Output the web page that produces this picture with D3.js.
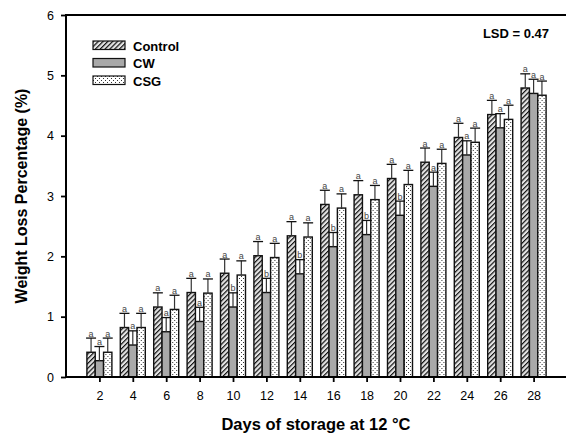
<!DOCTYPE html>
<html>
<head>
<meta charset="utf-8">
<script src="https://cdn.jsdelivr.net/npm/d3@7/dist/d3.min.js"></script>
<style>
  body { margin: 0; background: #fff; }
  svg { display: block; font-family: "Liberation Sans", Arial, sans-serif; }
</style>
</head>
<body>
<div id="chart"></div>
<script>
const days = [2, 4, 6, 8, 10, 12, 14, 16, 18, 20, 22, 24, 26, 28];
const controlVals = [0.41, 0.82, 1.16, 1.40, 1.72, 2.01, 2.34, 2.86, 3.02, 3.29, 3.56, 3.97, 4.35, 4.79];
const cwVals      = [0.27, 0.53, 0.75, 0.92, 1.16, 1.40, 1.71, 2.16, 2.36, 2.68, 3.16, 3.68, 4.13, 4.70];
const csgVals     = [0.41, 0.82, 1.12, 1.39, 1.69, 1.98, 2.32, 2.80, 2.94, 3.19, 3.54, 3.89, 4.27, 4.67];
const errVals     = [0.235, 0.235, 0.235, 0.235, 0.235, 0.235, 0.235, 0.235, 0.235, 0.235, 0.235, 0.235, 0.235, 0.235];
const controlLetters = ["a","a","a","a","a","a","a","a","a","a","a","a","a","a"];
const cwLetters      = ["a","a","a","a","b","b","b","b","b","b","a","a","a","a"];
const csgLetters     = ["a","a","a","a","a","a","a","a","a","a","a","a","a","a"];
const seriesNames = ["Control", "CW", "CSG"];
const yTicks = [0, 1, 2, 3, 4, 5, 6];

let width = 566, height = 439;
let plotLeft = 66, plotRight = 567, plotTop = 15, plotBottom = 377;

let svg = d3.select("#chart").append("svg")
    .attr("width", width)
    .attr("height", height);

// fill patterns
let defs = svg.append("defs");
let hatch = defs.append("pattern")
    .attr("id", "hatch")
    .attr("patternUnits", "userSpaceOnUse")
    .attr("width", 3.4).attr("height", 3.4)
    .attr("patternTransform", "rotate(45)");
hatch.append("rect").attr("width", 3.4).attr("height", 3.4).attr("fill", "#e4e4e4");
hatch.append("line").attr("x1", 0).attr("y1", 0).attr("x2", 0).attr("y2", 3.4)
    .attr("stroke", "#111").attr("stroke-width", 2.4);

let dots = defs.append("pattern")
    .attr("id", "dots")
    .attr("patternUnits", "userSpaceOnUse")
    .attr("width", 4).attr("height", 4);
dots.append("rect").attr("width", 4).attr("height", 4).attr("fill", "#fff");
dots.append("rect").attr("x", 0).attr("y", 0).attr("width", 1).attr("height", 1).attr("fill", "#333");
dots.append("rect").attr("x", 2).attr("y", 2).attr("width", 1).attr("height", 1).attr("fill", "#333");

let fills = {"Control": "url(#hatch)", "CW": "#a9a9a9", "CSG": "url(#dots)"};

let x = d3.scalePoint()
    .domain(days)
    .range([plotLeft, plotRight])
    .padding(1);

let xInner = d3.scaleBand()
    .domain(seriesNames)
    .range([-12.5, 12.5]);

let y = d3.scaleLinear()
    .domain([0, 6])
    .range([plotBottom, plotTop]);

let data = days.map(function(d, i) {
    return [
        {day: d, key: "Control", value: controlVals[i], err: errVals[i], letter: controlLetters[i]},
        {day: d, key: "CW", value: cwVals[i], err: errVals[i], letter: cwLetters[i]},
        {day: d, key: "CSG", value: csgVals[i], err: errVals[i], letter: csgLetters[i]}
    ];
});

let groups = svg.append("g").selectAll("g")
    .data(data)
    .enter().append("g")
    .attr("transform", function(d) { return "translate(" + x(d[0].day) + ",0)"; });

groups.selectAll("rect")
    .data(function(d) { return d; })
    .enter().append("rect")
    .attr("x", function(d) { return xInner(d.key); })
    .attr("y", function(d) { return y(d.value); })
    .attr("width", xInner.bandwidth())
    .attr("height", function(d) { return y(0) - y(d.value); })
    .attr("fill", function(d) { return fills[d.key]; })
    .attr("stroke", "#111")
    .attr("stroke-width", 1.4);

// error bars
let eb = groups.selectAll("g.err")
    .data(function(d) { return d; })
    .enter().append("g")
    .attr("class", "err");

eb.append("line")
    .attr("x1", function(d) { return xInner(d.key) + xInner.bandwidth() / 2; })
    .attr("x2", function(d) { return xInner(d.key) + xInner.bandwidth() / 2; })
    .attr("y1", function(d) { return y(d.value); })
    .attr("y2", function(d) { return y(d.value + d.err); })
    .attr("stroke", "#333")
    .attr("stroke-width", 1.2);

eb.append("line")
    .attr("x1", function(d) { return xInner(d.key) + xInner.bandwidth() / 2 - 5; })
    .attr("x2", function(d) { return xInner(d.key) + xInner.bandwidth() / 2 + 5; })
    .attr("y1", function(d) { return y(d.value + d.err); })
    .attr("y2", function(d) { return y(d.value + d.err); })
    .attr("stroke", "#111")
    .attr("stroke-width", 1.3);

eb.append("text")
    .attr("x", function(d) { return xInner(d.key) + xInner.bandwidth() / 2; })
    .attr("y", function(d) { return y(d.value + d.err) - 1.5; })
    .attr("text-anchor", "middle")
    .attr("font-size", 9)
    .attr("fill", "#444")
    .text(function(d) { return d.letter; });

// axes
let xAxis = svg.append("g")
    .attr("transform", "translate(0," + plotBottom + ")")
    .call(d3.axisBottom(x).tickSize(5).tickPadding(9));
xAxis.select(".domain").remove();
xAxis.selectAll(".tick line").attr("stroke", "#000").attr("stroke-width", 1.8);
xAxis.selectAll(".tick text").attr("font-size", 12.5).attr("fill", "#000")
    .attr("font-family", "Liberation Sans, Arial, sans-serif");

let yAxis = svg.append("g")
    .attr("transform", "translate(" + plotLeft + ",0)")
    .call(d3.axisLeft(y).tickValues(yTicks).tickFormat(d3.format("d")).tickSize(5).tickPadding(7));
yAxis.select(".domain").remove();
yAxis.selectAll(".tick line").attr("stroke", "#000").attr("stroke-width", 1.8);
yAxis.selectAll(".tick text").attr("font-size", 12.5).attr("fill", "#000")
    .attr("font-family", "Liberation Sans, Arial, sans-serif");

// frame lines: left, bottom, top
svg.append("line").attr("x1", plotLeft).attr("x2", plotLeft).attr("y1", plotTop).attr("y2", plotBottom + 1)
    .attr("stroke", "#000").attr("stroke-width", 2);
svg.append("line").attr("x1", plotLeft).attr("x2", width).attr("y1", plotBottom).attr("y2", plotBottom)
    .attr("stroke", "#000").attr("stroke-width", 2);
svg.append("line").attr("x1", plotLeft - 1).attr("x2", width).attr("y1", plotTop).attr("y2", plotTop)
    .attr("stroke", "#000").attr("stroke-width", 2);

// axis titles
svg.append("text")
    .attr("x", (plotLeft + width) / 2)
    .attr("y", 430)
    .attr("text-anchor", "middle")
    .attr("font-size", 16.5)
    .attr("font-weight", "bold")
    .text("Days of storage at 12 °C");

svg.append("text")
    .attr("transform", "translate(27," + (plotTop + plotBottom) / 2 + ") rotate(-90)")
    .attr("text-anchor", "middle")
    .attr("font-size", 16)
    .attr("font-weight", "bold")
    .text("Weight Loss Percentage (%)");

svg.append("text")
    .attr("x", 549)
    .attr("y", 38)
    .attr("text-anchor", "end")
    .attr("font-size", 13)
    .attr("font-weight", "bold")
    .text("LSD = 0.47");

// legend
let legend = svg.append("g")
    .selectAll("g")
    .data(seriesNames)
    .enter().append("g")
    .attr("transform", function(d, i) { return "translate(93," + (41 + i * 17.5) + ")"; });

legend.append("rect")
    .attr("width", 32)
    .attr("height", 8.5)
    .attr("fill", function(d) { return fills[d]; })
    .attr("stroke", "#111")
    .attr("stroke-width", 1.2);

legend.append("text")
    .attr("x", 40)
    .attr("y", 9.5)
    .attr("font-size", 13)
    .attr("font-weight", "bold")
    .text(function(d) { return d; });
</script>
</body>
</html>
